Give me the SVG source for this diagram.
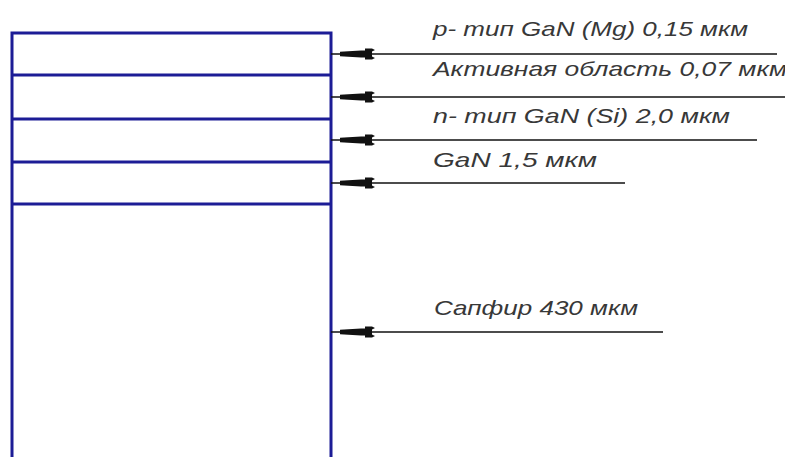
<svg xmlns="http://www.w3.org/2000/svg" xmlns:xlink="http://www.w3.org/1999/xlink" width="785" height="457" viewBox="0 0 785 457">
<style>
.layer{fill:none;stroke:#1c1c96;stroke-width:3}
.lead{stroke:#111;stroke-width:1.6;fill:none}
.lbl{font-family:"Liberation Sans",Arial,sans-serif;font-style:italic;font-size:21px;fill:#383838}
.head{fill:#111}
</style>
<defs>
<path id="ah" class="head" d="M9,-2.2 L30,-3.5 L34,-3.5 L34,-5.5 L41,-5.5 L44,-4 L41,-2.5 L41,2.5 L44,4 L41,5.5 L34,5.5 L34,3.5 L30,3.5 L9,2.2 Z"/>
</defs>
<rect width="785" height="457" fill="#fff"/>
<g id="stack">
<g id="layer-p-GaN"><path class="layer" d="M12,458 V33 H331 V458"/><line class="layer" x1="12" y1="75" x2="331" y2="75"/></g>
<g id="layer-active"><line class="layer" x1="12" y1="119" x2="331" y2="119"/></g>
<g id="layer-n-GaN"><line class="layer" x1="12" y1="162" x2="331" y2="162"/></g>
<g id="layer-GaN"><line class="layer" x1="12" y1="204" x2="331" y2="204"/></g>
<g id="layer-sapphire"></g>
</g>
<g id="connectors">
<line class="lead" x1="331" y1="54" x2="777" y2="54"/><use xlink:href="#ah" x="331" y="54"/>
<line class="lead" x1="331" y1="97" x2="785" y2="97"/><use xlink:href="#ah" x="331" y="97"/>
<line class="lead" x1="331" y1="140" x2="757" y2="140"/><use xlink:href="#ah" x="331" y="140"/>
<line class="lead" x1="331" y1="183" x2="625" y2="183"/><use xlink:href="#ah" x="331" y="183"/>
<line class="lead" x1="331" y1="332" x2="663" y2="332"/><use xlink:href="#ah" x="331" y="332"/>
</g>
<g id="labels" xml:space="preserve">
<text class="lbl" x="433" y="36" textLength="315" lengthAdjust="spacingAndGlyphs">p- тип GaN (Mg) 0,15 мкм</text>
<text class="lbl" x="433" y="76" textLength="354" lengthAdjust="spacingAndGlyphs">Активная область 0,07 мкм</text>
<text class="lbl" x="433" y="123" textLength="297" lengthAdjust="spacingAndGlyphs">n- тип GaN (Si) 2,0  мкм</text>
<text class="lbl" x="433" y="167" textLength="164" lengthAdjust="spacingAndGlyphs">GaN  1,5  мкм</text>
<text class="lbl" x="434" y="315" textLength="204" lengthAdjust="spacingAndGlyphs">Сапфир 430 мкм</text>
</g>
</svg>
